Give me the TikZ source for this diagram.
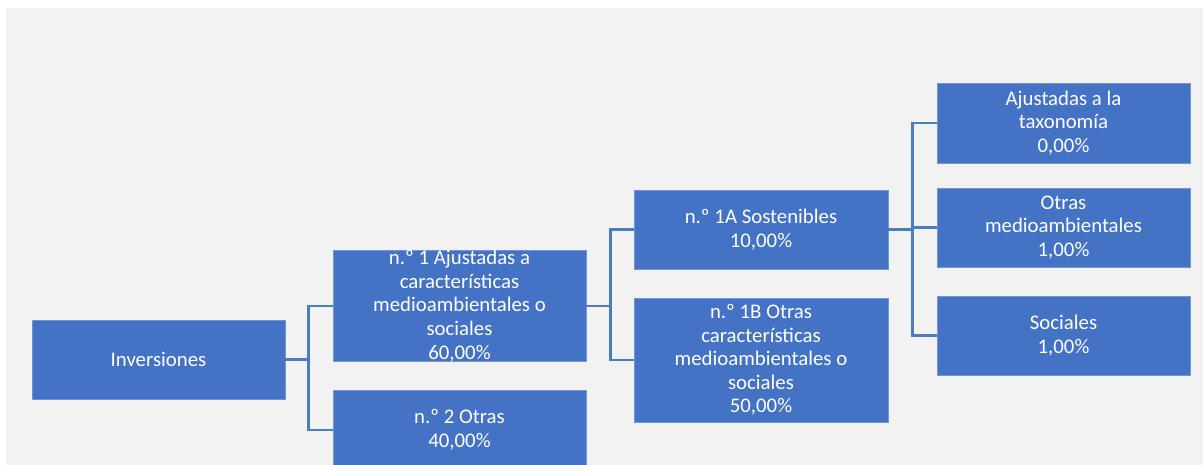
\documentclass[tikz,border=0pt]{standalone}
\usepackage{fontspec}
\setmainfont{Carlito}
\definecolor{boxblue}{HTML}{4472C4}
\definecolor{lineblue}{HTML}{4A7EBB}
\definecolor{bggray}{HTML}{F2F2F2}

\begin{document}
\begin{tikzpicture}[
        x=1pt, y=-1pt,
        font=\fontsize{20.8}{23.6}\selectfont,
        catbox/.style={fill=boxblue, draw=boxblue!75!white, line width=0.8pt,
            text=white, align=center, inner sep=0pt,
            minimum width=253pt, minimum height=79pt},
        link/.style={lineblue, line width=2.2pt}
    ]

        % === DEFINITIONS ===
        \def\colA{158.5}  % Root column
        \def\colB{459.5}  % Level 1
        \def\colC{761}    % Level 2
        \def\colD{1063.5} % Level 3

        % === 1. BACKGROUND ===
        \fill[white] (0,0) rectangle (1203,465);
        \fill[bggray] (6,8) rectangle (1203,465);
        \useasboundingbox (0,0) rectangle (1203,465);
        \clip (0,0) rectangle (1203,465);

        % === 2. BOXES ===
        \node[catbox] (inv) at (\colA,359.5) {Inversiones};

        \node[catbox, minimum height=110pt] (n1) at (\colB,306)
            {n.º 1 Ajustadas a\\características\\medioambientales o\\sociales\\60,00\%};
        \node[catbox, minimum height=80pt] (n2) at (\colB,430) {n.º 2 Otras\\40,00\%};

        \node[catbox, minimum width=254pt] (n1A) at (\colC,229.5) {n.º 1A Sostenibles\\10,00\%};
        \node[catbox, minimum width=254pt, minimum height=124pt] (n1B) at (\colC,360)
            {n.º 1B Otras\\características\\medioambientales o\\sociales\\50,00\%};

        \node[catbox, minimum height=80pt] (taxo) at (\colD,123) {Ajustadas a la\\taxonomía\\0,00\%};
        \node[catbox] (otras) at (\colD,227.5) {Otras\\medioambientales\\1,00\%};
        \node[catbox] (soc) at (\colD,335.5) {Sociales\\1,00\%};

        % === 3. CONNECTORS ===
        \draw[link] (inv.east) -- ++(23,0) coordinate (b1);
        \draw[link] (n1.west) -| (b1) |- (n2.west);

        \draw[link] (n1.east) -- ++(24,0) coordinate (b2);
        \draw[link] (n1A.west) -| (b2) |- (n1B.west);

        \draw[link] (n1A.east) -- ++(24,0) coordinate (b3);
        \draw[link] (taxo.west) -| (b3) |- (soc.west);
        \draw[link] (b3 |- otras.west) -- (otras.west);

    \end{tikzpicture}
\end{document}
